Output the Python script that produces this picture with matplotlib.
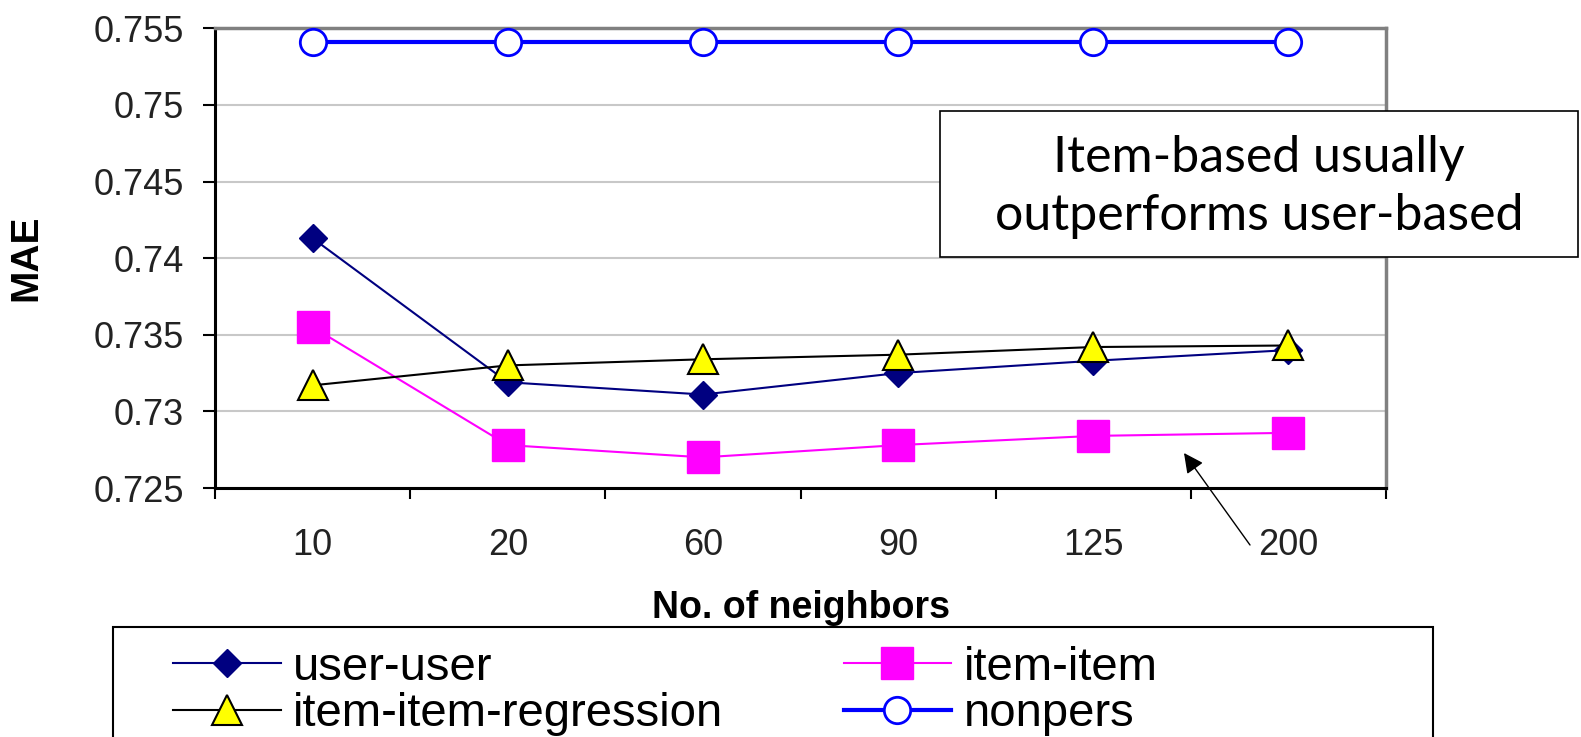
import matplotlib
matplotlib.use("Agg")
import matplotlib.pyplot as plt
from matplotlib.patches import Rectangle
import numpy as np

# ---- data ----
neighbors = ["10", "20", "60", "90", "125", "200"]
user_user = [0.7413, 0.7319, 0.7311, 0.7325, 0.7333, 0.7340]
item_item = [0.7355, 0.7278, 0.7270, 0.7278, 0.7284, 0.7286]
item_item_regression = [0.7317, 0.7330, 0.7334, 0.7337, 0.7342, 0.7343]
nonpers = [0.7541, 0.7541, 0.7541, 0.7541, 0.7541, 0.7541]
y_ticks = [0.725, 0.73, 0.735, 0.74, 0.745, 0.75, 0.755]
y_ticklabels = ["0.725", "0.73", "0.735", "0.74", "0.745", "0.75", "0.755"]
series_names = ["user-user", "item-item", "item-item-regression", "nonpers"]
note_text = "Item-based usually\noutperforms user-based"

W, H = 1581, 737
fig = plt.figure(figsize=(W / 100, H / 100), dpi=100)
plt.rcParams["font.family"] = ["Liberation Sans", "DejaVu Sans"]

L, R, T, B = 215, 1386, 28.3, 488
ax = fig.add_axes([L / W, 1 - B / H, (R - L) / W, (B - T) / H])

x = np.arange(len(neighbors))

h_uu, = ax.plot(x, user_user, color="#000080", lw=1.5, marker="D", ms=14.5,
                mfc="#000080", mec="#000080", clip_on=False, zorder=3)
h_ii, = ax.plot(x, item_item, color="#FF00FF", lw=1.5, marker="s", ms=23,
                mfc="#FF00FF", mec="#FF00FF", clip_on=False, zorder=4)
h_rg, = ax.plot(x, item_item_regression, color="black", lw=1.5, marker="^", ms=22,
                mfc="#FFFF00", mec="black", mew=1.5, clip_on=False, zorder=5)
h_np, = ax.plot(x, nonpers, color="#0000FF", lw=3, marker="o", ms=19,
                mfc="white", mec="#0000FF", mew=2, clip_on=False, zorder=6)

ax.set_xlim(-0.5, len(neighbors) - 0.5)
ax.set_ylim(y_ticks[0], y_ticks[-1])
ax.set_yticks(y_ticks)
ax.set_yticklabels(y_ticklabels)
ax.set_xticks(x)
ax.set_xticklabels(neighbors)
ax.set_xticks(np.arange(-0.5, len(neighbors), 1.0), minor=True)

ax.tick_params(axis="y", which="major", length=8.5, width=1.5, direction="out",
               labelsize=26, labelcolor="#222222", pad=14)
ax.tick_params(axis="x", which="major", length=0, labelsize=26,
               labelcolor="#222222", pad=29)
ax.tick_params(axis="x", which="minor", length=8, width=1.5, direction="out")

ax.yaxis.grid(True, color="#c8c8c8", lw=1.5)
ax.set_axisbelow(True)

for s in ["left", "bottom"]:
    ax.spines[s].set_color("black")
    ax.spines[s].set_linewidth(2.2)
for s in ["top", "right"]:
    ax.spines[s].set_color("#808080")
    ax.spines[s].set_linewidth(2.5)

ax.set_xlabel("No. of neighbors", fontsize=27, fontweight="bold", va="top")
ax.xaxis.set_label_coords(0.5, -(590 - B) / (B - T))
ax.set_ylabel("MAE", fontsize=28, fontweight="bold")
ax.yaxis.set_label_coords(-(L - 44) / (R - L), 0.5)

# legend frame
fig.add_artist(Rectangle((113 / W, 1 - 780 / H), (1433 - 113) / W, (780 - 627) / H,
                         transform=fig.transFigure, fill=False, ec="black",
                         lw=1.5, clip_on=False))
fig.legend([h_uu, h_rg, h_ii, h_np],
           [series_names[0], series_names[2], series_names[1], series_names[3]],
           ncol=2, frameon=False, loc="upper left",
           bbox_to_anchor=(173 / W, 1 - 646 / H), borderpad=0, borderaxespad=0,
           fontsize=34, handlelength=2.28, handletextpad=0.26,
           columnspacing=2.55, labelspacing=0.05)

# annotation box
fig.add_artist(Rectangle((940 / W, 1 - 257 / H), (1578 - 940) / W, (257 - 111) / H,
                         transform=fig.transFigure, fc="white", ec="black",
                         lw=1.2, zorder=10))
fig.text((940 + 1578) / 2 / W, 1 - 187 / H, note_text, ha="center", va="center",
         fontsize=36, family=["Lato", "DejaVu Sans"], linespacing=1.3, zorder=11)

ax.annotate("", xy=(1184 / W, 1 - 453 / H), xytext=(1250 / W, 1 - 545 / H),
            xycoords="figure fraction", textcoords="figure fraction",
            arrowprops=dict(arrowstyle="-|>", color="black", lw=1.0,
                            mutation_scale=30, shrinkA=0, shrinkB=0),
            annotation_clip=False)

fig.savefig("out.png", dpi=100)
